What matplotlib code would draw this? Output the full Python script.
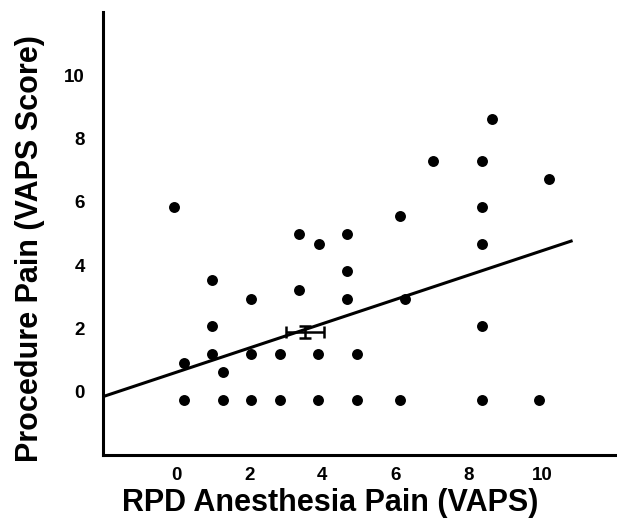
import matplotlib
matplotlib.use("Agg")
import matplotlib.pyplot as plt
import numpy as np

plt.rcParams['font.family'] = ['Liberation Sans', 'DejaVu Sans']

# Data
anesthesia_pain = [-0.05, 0.99, 2.04, 0.99, 0.99, 2.04, 2.84, 0.22, 1.27,
                   0.22, 1.27, 2.04, 2.84, 3.89, 4.94, 6.13, 8.35, 9.93,
                   3.36, 3.91, 4.68, 6.13, 4.68, 3.36, 4.68, 6.26, 3.89, 4.94,
                   8.63, 8.35, 7.03, 10.20, 8.35, 8.35, 8.35]
procedure_pain = [5.83, 3.52, 2.94, 2.08, 1.20, 1.20, 1.20, 0.91, 0.63,
                  -0.25, -0.25, -0.25, -0.25, -0.25, -0.25, -0.25, -0.25, -0.25,
                  4.97, 4.67, 4.97, 5.54, 3.81, 3.23, 2.94, 2.94, 1.20, 1.20,
                  8.62, 7.29, 7.29, 6.72, 5.84, 4.67, 2.07]

mean_x, mean_y = 3.52, 1.90
sem_x, sem_y = 0.52, 0.19

fit_slope = 0.384
fit_intercept = 0.613
fit_x_start, fit_x_end = -2.0, 10.84

x_ticks = [0, 2, 4, 6, 8, 10]
y_ticks = [0, 2, 4, 6, 8, 10]

fig = plt.figure(figsize=(6.17, 5.19), dpi=100)
ax = fig.add_axes([103/617, 1 - 455/519, 512/617, 443/519])

ax.scatter(anesthesia_pain, procedure_pain, s=62, color='black', zorder=3, linewidths=0)

fx = np.array([fit_x_start, fit_x_end])
ax.plot(fx, fit_intercept + fit_slope * fx, color='black', lw=2.2, zorder=2,
        solid_capstyle='butt', clip_on=False)

ax.errorbar([mean_x], [mean_y], xerr=[sem_x], yerr=[sem_y], fmt='none',
            ecolor='black', elinewidth=1.8, capsize=4.5, capthick=1.8, zorder=4)

ax.set_xlim(-2, 12)
ax.set_ylim(-2, 12)
ax.set_xticks(x_ticks)
ax.set_yticks(y_ticks)
ax.set_xticklabels([str(v) for v in x_ticks])
ax.set_yticklabels([str(v) for v in y_ticks])

for s in ['top', 'right']:
    ax.spines[s].set_visible(False)
for s in ['left', 'bottom']:
    ax.spines[s].set_linewidth(2.2)

ax.tick_params(axis='x', length=0, pad=9, labelsize=13.5)
ax.tick_params(axis='y', length=0, pad=13, labelsize=13.5)
for lab in ax.get_xticklabels() + ax.get_yticklabels():
    lab.set_fontweight('bold')

ax.set_xlabel('RPD Anesthesia Pain (VAPS)', fontsize=22, fontweight='bold',
              va='center', ha='center')
ax.xaxis.set_label_coords(0.443, -0.108)
ax.set_ylabel('Procedure Pain (VAPS Score)', fontsize=22, fontweight='bold',
              va='center', ha='center')
ax.yaxis.set_label_coords(-0.1426, 0.467)

fig.savefig('out.png', dpi=100)
